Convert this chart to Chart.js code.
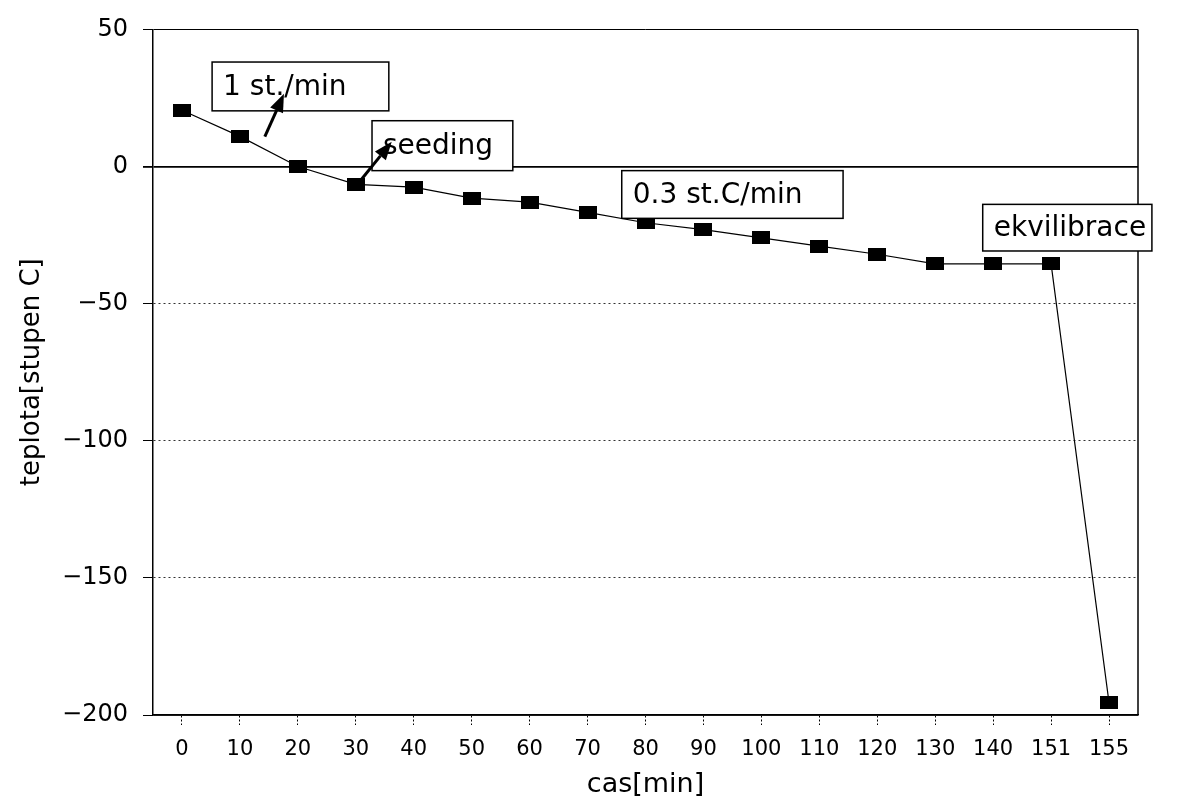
<!DOCTYPE html>
<html lang="cs">
<head>
<meta charset="UTF-8">
<title>teplota - cas</title>
<script src="https://cdn.jsdelivr.net/npm/chart.js@4.4.0/dist/chart.umd.min.js"></script>
<style>
    html, body {
        margin: 0;
        padding: 0;
        background: #fff;
    }
    .wrap {
        width: 1189px;
        height: 807px;
    }
</style>
</head>
<body>
<div class="wrap"><canvas id="chart" width="1189" height="807"></canvas></div>
<script>
    // data
    const casLabels = ['0', '10', '20', '30', '40', '50', '60', '70', '80', '90', '100', '110', '120', '130', '140', '151', '155'];
    const teplota = [20.5, 11, 0, -6.5, -7.5, -11.5, -13, -16.7, -20.5, -23, -26, -29, -32, -35.5, -35.5, -35.5, -195.5];
    const yTicks = [50, 0, -50, -100, -150, -200];
    const notes = ['1 st./min', 'seeding', '0.3 st.C/min', 'ekvilibrace'];

    const FONT = '"DejaVu Sans", sans-serif';

    // black rectangular marker
    const marker = document.createElement('canvas');
    marker.width = 18;
    marker.height = 13;
    const mctx = marker.getContext('2d');
    mctx.fillStyle = '#000';
    mctx.fillRect(0, 0, 18, 13);

    // right border of the plot frame
    const framePlugin = {
        id: 'frame',
        beforeDatasetsDraw(chart) {
            const { ctx, chartArea: a } = chart;
            ctx.save();
            ctx.strokeStyle = '#000';
            ctx.lineWidth = 1.5;
            ctx.beginPath();
            ctx.moveTo(a.right, a.top);
            ctx.lineTo(a.right, a.bottom);
            ctx.stroke();
            ctx.restore();
        }
    };

    function arrow(ctx, x1, y1, x2, y2) {
        const ang = Math.atan2(y2 - y1, x2 - x1);
        const len = 18, half = 7;
        ctx.beginPath();
        ctx.moveTo(x1, y1);
        ctx.lineTo(x2 - Math.cos(ang) * len, y2 - Math.sin(ang) * len);
        ctx.stroke();
        ctx.beginPath();
        ctx.moveTo(x2, y2);
        ctx.lineTo(x2 - Math.cos(ang) * len - Math.sin(ang) * half, y2 - Math.sin(ang) * len + Math.cos(ang) * half);
        ctx.lineTo(x2 - Math.cos(ang) * len + Math.sin(ang) * half, y2 - Math.sin(ang) * len - Math.cos(ang) * half);
        ctx.closePath();
        ctx.fill();
    }

    // text boxes with arrows
    const notePlugin = {
        id: 'notes',
        afterDatasetsDraw(chart) {
            const { ctx, scales: { x, y } } = chart;
            const px = i => x.getPixelForValue(i);
            const py = v => y.getPixelForValue(v);
            // [text, left idx, right idx, top value, bottom value]
            const boxes = [
                [notes[0], 0.52, 3.57, 38.1, 20.3],
                [notes[1], 3.28, 5.71, 16.7, -1.5],
                [notes[2], 7.59, 11.41, -1.5, -18.9],
                [notes[3], 13.82, 16.74, -13.8, -30.8]
            ];
            ctx.save();
            ctx.font = '28px ' + FONT;
            ctx.textBaseline = 'middle';
            ctx.lineWidth = 1.5;
            boxes.forEach(b => {
                const x0 = px(b[1]), x1 = px(b[2]), y0 = py(b[3]), y1 = py(b[4]);
                ctx.fillStyle = '#fff';
                ctx.fillRect(x0, y0, x1 - x0, y1 - y0);
                ctx.strokeStyle = '#000';
                ctx.strokeRect(x0, y0, x1 - x0, y1 - y0);
                ctx.fillStyle = '#000';
                ctx.fillText(b[0], x0 + 11, (y0 + y1) / 2 + 1);
            });
            ctx.strokeStyle = '#000';
            ctx.fillStyle = '#000';
            ctx.lineWidth = 3;
            arrow(ctx, px(1.43), py(10.9), px(1.76), py(26.5));
            arrow(ctx, px(3.04), py(-6.2), px(3.62), py(9));
            ctx.restore();
        }
    };

    const ctx = document.getElementById('chart').getContext('2d');
    new Chart(ctx, {
        type: 'line',
        data: {
            labels: casLabels,
            datasets: [{
                data: teplota,
                borderColor: '#000',
                borderWidth: 1.2,
                pointStyle: marker,
                pointRadius: 9,
                pointHoverRadius: 9,
                tension: 0,
                fill: false
            }]
        },
        options: {
            responsive: false,
            animation: false,
            devicePixelRatio: 1,
            layout: { padding: { top: 26, right: 51, left: 0, bottom: 0 } },
            plugins: {
                legend: { display: false },
                tooltip: { enabled: false }
            },
            scales: {
                x: {
                    offset: true,
                    grid: {
                        drawOnChartArea: false,
                        tickLength: 10,
                        tickColor: '#000',
                        tickBorderDash: [2, 2]
                    },
                    border: { color: '#000', width: 1.5 },
                    ticks: {
                        color: '#000',
                        padding: 12,
                        maxRotation: 0,
                        autoSkip: false,
                        font: { family: FONT, size: 21 }
                    },
                    title: {
                        display: true,
                        text: 'cas[min]',
                        color: '#000',
                        padding: { top: 0, bottom: 6 },
                        font: { family: FONT, size: 27 }
                    },
                    afterFit: s => { s.height = 92; }
                },
                y: {
                    min: -200,
                    max: 50,
                    afterBuildTicks: s => { s.ticks = yTicks.map(v => ({ value: v })); },
                    grid: {
                        color: c => (c.tick && (c.tick.value === 0 || c.tick.value === 50)) ? '#000' : '#333',
                        lineWidth: c => (c.tick && c.tick.value === 0) ? 1.8 : 1,
                        tickLength: 10,
                        tickColor: '#000'
                    },
                    border: {
                        color: '#000',
                        width: 1.5,
                        dash: c => (c.tick && c.tick.value < 0 && c.tick.value > -200) ? [2, 3] : []
                    },
                    ticks: {
                        color: '#000',
                        padding: 15,
                        font: { family: FONT, size: 24 },
                        callback: v => String(v).replace('-', '\u2212')
                    },
                    title: {
                        display: true,
                        text: 'teplota[stupen C]',
                        color: '#000',
                        padding: { top: 17, bottom: 0 },
                        font: { family: FONT, size: 26 }
                    },
                    afterFit: s => { s.width = 153; }
                }
            }
        },
        plugins: [framePlugin, notePlugin]
    });
</script>
</body>
</html>
